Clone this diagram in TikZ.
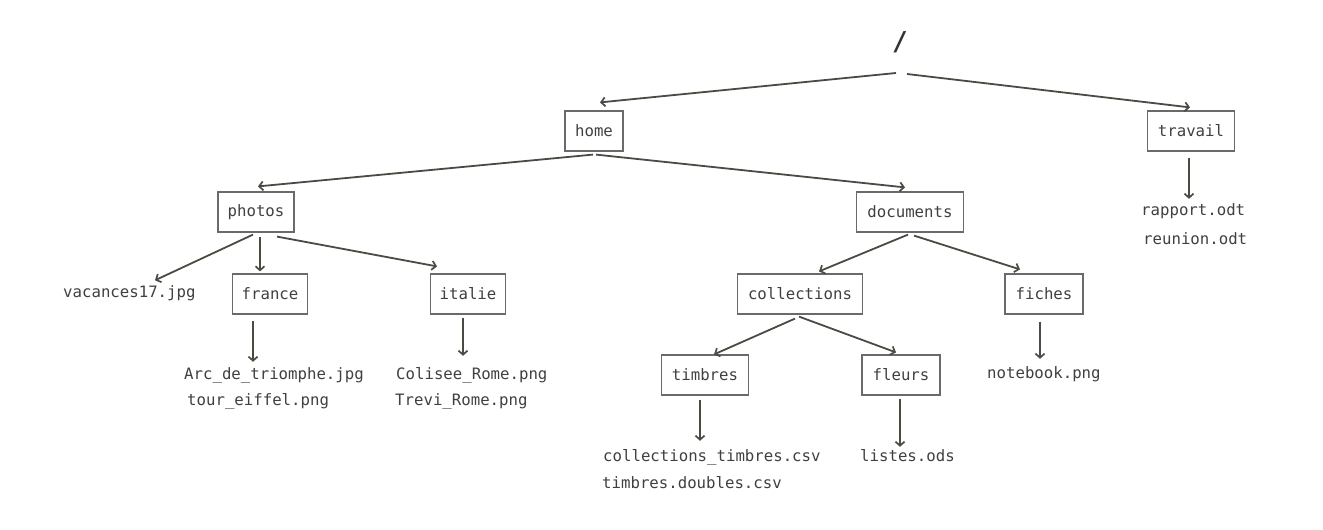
\documentclass[tikz,border=0pt]{standalone}
\usepackage{fontspec}
\setmonofont{DejaVu Sans Mono}
\usetikzlibrary{arrows.meta,calc}
\definecolor{txtc}{HTML}{404040}
\definecolor{arrc}{HTML}{474D43}
\definecolor{boxc}{HTML}{6A6A6A}
\begin{document}
\begin{tikzpicture}[x=1pt,y=-1pt,
  every node/.style={font=\ttfamily\fontsize{15.7}{18}\selectfont, text=txtc},
  dirbox/.style={draw=boxc, line width=1.2pt, minimum height=40pt, inner sep=0pt},
  filetxt/.style={anchor=west, inner sep=0pt, text height=10pt, text depth=3pt},
  arr/.style={draw=arrc, line width=1.8pt, -{Straight Barb[length=4pt,width=9pt,line width=1.7pt]}}]
\useasboundingbox (0,0) rectangle (1323,530);
\fill[white] (0,0) rectangle (1323,530);

% root
\node[inner sep=0pt, font=\ttfamily\bfseries\fontsize{26}{30}\selectfont, text=black!80] (root) at (900,42) {/};
\coordinate (rl) at (896,73);
\coordinate (rr) at (907,74);

% directories
\node[dirbox, minimum width=58pt] (home) at (594,131) {home};
\node[dirbox, minimum width=87pt] (travail) at (1191,131) {travail};
\node[dirbox, minimum width=76pt] (photos) at (256,212) {photos};
\node[dirbox, minimum width=107pt] (documents) at (910,212) {documents};
\node[dirbox, minimum width=75pt] (france) at (270,294) {france};
\node[dirbox, minimum width=75pt] (italie) at (468,294) {italie};
\node[dirbox, minimum width=125pt] (collections) at (800,294) {collections};
\node[dirbox, minimum width=78pt] (fiches) at (1044,294) {fiches};
\node[dirbox, minimum width=87pt] (timbres) at (705,375) {timbres};
\node[dirbox, minimum width=78pt] (fleurs) at (901,375) {fleurs};

% files
\node[filetxt] (vac) at (63,294) {vacances17.jpg};
\node[filetxt] (arc) at (184,376) {Arc\_de\_triomphe.jpg};
\node[filetxt] (tour) at (187,402) {tour\_eiffel.png};
\node[filetxt] (coli) at (396,376) {Colisee\_Rome.png};
\node[filetxt] (trevi) at (395,402) {Trevi\_Rome.png};
\node[filetxt] (ctim) at (603,458) {collections\_timbres.csv};
\node[filetxt] (tdbl) at (602,485) {timbres.doubles.csv};
\node[filetxt] (listes) at (860,458) {listes.ods};
\node[filetxt] (notebook) at (987,375) {notebook.png};
\node[filetxt] (rapport) at (1141,212) {rapport.odt};
\node[filetxt] (reunion) at (1143,241) {reunion.odt};

% connectors
\draw[arr] (rl) -- ($(home.north)+(6,-8)$);
\draw[arr] (rr) -- ($(travail.north)+(-1,-3)$);
\draw[arr] ($(home.south)+(-1,3)$) -- ($(photos.north)+(2,-5)$);
\draw[arr] ($(home.south)+(2,3)$) -- ($(documents.north)+(-5,-4)$);
\draw[arr] ($(photos.south)+(-3,2)$) -- ($(vac.north west)+(92,-7)$);
\draw[arr] ($(photos.south)+(4,4)$) -- ($(france.north)+(-10,-2)$);
\draw[arr] ($(photos.south)+(21,4)$) -- ($(italie.north)+(-31,-7)$);
\draw[arr] ($(documents.south)+(-2,2)$) -- ($(collections.north)+(19,-2)$);
\draw[arr] ($(documents.south)+(4,3)$) -- ($(fiches.north)+(-24,-4)$);
\draw[arr] ($(collections.south)+(-5,4)$) -- ($(timbres.north)+(9,0)$);
\draw[arr] ($(collections.south)+(-1,2)$) -- ($(fleurs.north)+(-5,-2)$);
\draw[arr] ($(france.south)+(-17,6)$) -- ($(france.south |- arc.north)+(-17,-7.5)$);
\draw[arr] ($(italie.south)+(-5,3)$) -- ($(italie.south |- coli.north)+(-5,-13.5)$);
\draw[arr] ($(fiches.south)+(-4,7)$) -- ($(fiches.south |- notebook.north)+(-4,-9.5)$);
\draw[arr] ($(timbres.south)+(-5,4)$) -- ($(timbres.south |- ctim.north)+(-5,-10.5)$);
\draw[arr] ($(fleurs.south)+(-1,3)$) -- ($(fleurs.south |- listes.north)+(-1,-4.5)$);
\draw[arr] ($(travail.south)+(-2,6)$) -- ($(travail.south |- rapport.north)+(-2,-6.5)$);
\end{tikzpicture}
\end{document}
